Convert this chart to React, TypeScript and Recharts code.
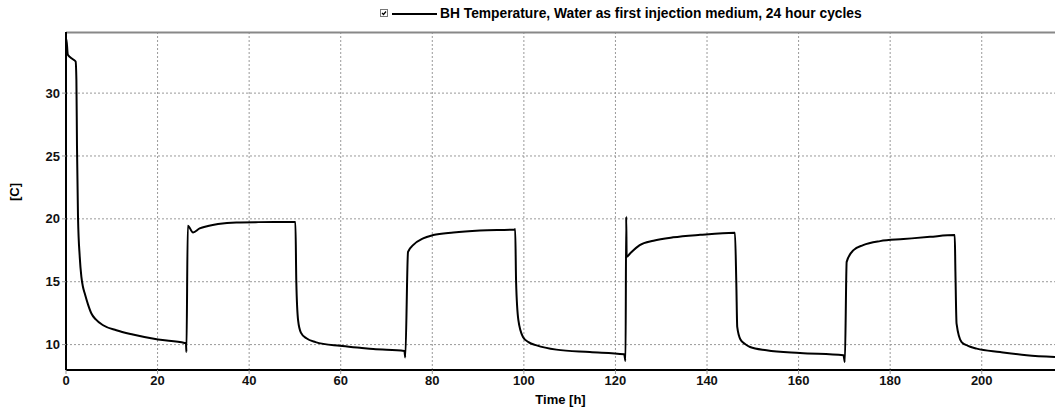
import { LineChart, Line, XAxis, YAxis, CartesianGrid, Legend } from 'recharts';

// time axis [h] and borehole temperature [C]
const hours = [
  0, 0.08, 0.4, 1.5, 2.1, 2.27, 2.4, 2.62, 3.0, 3.36, 3.7, 4.1, 4.8, 5.55, 6.5, 8.1, 11, 14.6, 20.1, 25.9,
  26.2, 26.3, 26.6, 27.75, 29.2, 31, 33.2, 37.2, 42, 50.1,
  50.3, 50.7, 51.3, 52.5, 54.5, 59.8, 64.2, 67.1, 73.9,
  74.1, 74.7, 75.8, 78, 80.2, 84.6, 90.4, 98.0, 98.1,
  98.3, 98.8, 99.8, 101, 102.8, 107.1, 114.4, 121.9,
  122.2, 122.35, 122.45, 123.2, 125.3, 128.3, 132.6, 138.5, 146.1,
  146.4, 146.6, 147.3, 148.3, 149.4, 153, 160.3, 169.8,
  170.1, 170.5, 172, 174.1, 177.8, 182.9, 188.7, 194.1,
  194.25, 194.5, 195.6, 197, 198.9, 204, 209.8, 216,
];
const temperature = [
  32.4, 34.3, 33.05, 32.7, 32.52, 31.06, 25.75, 20.17, 16.98, 15.39, 14.6, 14.06, 13.2, 12.47, 12.0, 11.54, 11.14, 10.8, 10.4, 10.13,
  10.1, 9.41, 19.45, 18.92, 19.24, 19.43, 19.59, 19.72, 19.74, 19.75,
  15.0, 11.9, 10.95, 10.5, 10.2, 9.9, 9.75, 9.65, 9.5,
  8.98, 17.38, 17.91, 18.45, 18.71, 18.92, 19.08, 19.16, 19.2,
  15.0, 11.94, 10.61, 10.2, 9.94, 9.6, 9.41, 9.23,
  8.7, 20.17, 16.98, 17.25, 17.91, 18.26, 18.53, 18.73, 18.89,
  14.86, 11.4, 10.4, 10.05, 9.81, 9.55, 9.33, 9.15,
  8.61, 16.58, 17.51, 17.91, 18.23, 18.39, 18.57, 18.71,
  15.8, 11.67, 10.2, 9.9, 9.68, 9.41, 9.15, 9.01,
];
const xTicks = [0, 20, 40, 60, 80, 100, 120, 140, 160, 180, 200];
const yTicks = [10, 15, 20, 25, 30];
const yMin = 7.98;
const yMax = 34.86;
const seriesName = 'BH Temperature, Water as first injection medium, 24 hour cycles';

const data = hours.map((t, i) => ({ t, temp: temperature[i] }));

const font = '"Liberation Sans", Arial, sans-serif';
const tickStyle = { fontSize: 13, fontWeight: 700, fill: '#111', fontFamily: font };

function LegendBox() {
  return (
    <div style={{ display: 'flex', alignItems: 'center', fontFamily: font, fontSize: 13.8, fontWeight: 700, color: '#000' }}>
      <svg width={9} height={9} style={{ marginRight: 3 }}>
        <rect x={0.5} y={0.5} width={7} height={7} fill="#fff" stroke="#777" />
        <path d="M2 4 L3.5 5.5 L6 2.5" fill="none" stroke="#000" strokeWidth={1.2} />
      </svg>
      <svg width={45} height={4} style={{ marginRight: 3 }}>
        <line x1={0} y1={2} x2={45} y2={2} stroke="#000" strokeWidth={2} />
      </svg>
      <span>{seriesName}</span>
    </div>
  );
}

export default function App() {
  return (
    <div style={{ position: 'absolute', left: 0, top: 0, background: '#fff' }}>
      <LineChart width={1057} height={412} data={data} margin={{ top: 32, right: 2, bottom: 0, left: 0 }}>
        <CartesianGrid stroke="#999" strokeDasharray="2 2" horizontalValues={yTicks} verticalValues={xTicks} />
        {/* solid grey frame line along the top of the plot */}
        <CartesianGrid stroke="#888" strokeWidth={2} vertical={false} horizontalValues={[yMax - 0.04]} />
        <XAxis
          dataKey="t"
          type="number"
          domain={[0, 216]}
          ticks={xTicks}
          height={42}
          tick={tickStyle}
          tickSize={4}
          tickMargin={2}
          tickLine={{ stroke: '#999' }}
          axisLine={{ stroke: '#000', strokeWidth: 2 }}
          allowDataOverflow
          label={{ value: 'Time [h]', position: 'insideBottom', offset: 8, style: { ...tickStyle, fill: '#000' } }}
        />
        <YAxis
          type="number"
          domain={[yMin, yMax]}
          ticks={yTicks}
          width={66}
          tick={tickStyle}
          tickSize={4}
          tickMargin={2}
          tickLine={{ stroke: '#999' }}
          axisLine={{ stroke: '#000', strokeWidth: 2 }}
          allowDataOverflow
          label={{ value: '[C]', angle: -90, position: 'insideLeft', offset: 14, style: { ...tickStyle, fill: '#000' } }}
        />
        <Legend
          layout="horizontal"
          verticalAlign="middle"
          align="center"
          content={() => <LegendBox />}
          wrapperStyle={{ position: 'absolute', top: 6, left: 380, width: 'auto' }}
        />
        <Line
          type="monotone"
          dataKey="temp"
          name={seriesName}
          stroke="#000"
          strokeWidth={2}
          dot={false}
          isAnimationActive={false}
        />
      </LineChart>
    </div>
  );
}
